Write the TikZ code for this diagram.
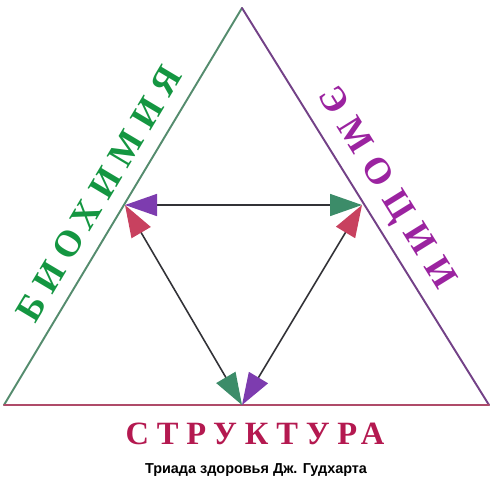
\documentclass[tikz,border=0pt]{standalone}
\usepackage{fontspec}
\setmainfont{Liberation Serif}
\newfontfamily\captionfont{Liberation Sans}
\usetikzlibrary{arrows.meta}
\definecolor{bioline}{RGB}{85,140,110}
\definecolor{emoline}{RGB}{115,65,135}
\definecolor{strline}{RGB}{175,75,105}
\definecolor{biotext}{RGB}{20,150,65}
\definecolor{emotext}{RGB}{155,35,160}
\definecolor{strtext}{RGB}{180,25,80}
\definecolor{biohead}{RGB}{60,140,105}
\definecolor{emohead}{RGB}{125,60,175}
\definecolor{strhead}{RGB}{200,65,95}
\definecolor{linkgray}{RGB}{50,50,55}
\tikzset{triad/.cd,
         side/.style={line width=1.1pt,line cap=round},
         word/.style={font=\bfseries\fontsize{21}{21}\selectfont,inner sep=0pt},
         link/.style={line width=0.9pt,draw=linkgray},
         caption/.style={font=\captionfont\bfseries\fontsize{8.2}{8.2}\selectfont,inner sep=0pt}}
\tikzset{bio tip/.tip={Triangle[length=6.4mm,width=4.4mm,color=biohead]},
         emo tip/.tip={Triangle[length=6.4mm,width=4.4mm,color=emohead]},
         str tip/.tip={Triangle[length=6.4mm,width=4.4mm,color=strhead]}}

\begin{document}
\begin{tikzpicture}[x=0.2mm,y=-0.2mm]
\useasboundingbox (0,0) rectangle (493,491);
% outer triangle
\coordinate (top) at (242,8);
\coordinate (bl)  at (4,405);
\coordinate (br)  at (489,405);
\draw[triad/side,draw=bioline] (bl) -- (top);
\draw[triad/side,draw=emoline] (top) -- (br);
\draw[triad/side,draw=strline] (bl) -- (br);
% inner triangle of arrows
\coordinate (bio) at (125,205);
\coordinate (emo) at (362,205);
\coordinate (str) at (242,405);
\draw[triad/link,{emo tip}-{bio tip}] (bio) -- (emo);
\draw[triad/link,{str tip}-{bio tip}] (bio) -- (str);
\draw[triad/link,{str tip}-{emo tip}] (emo) -- (str);
% labels
\node[triad/word,text=biotext,rotate=59.2] (biolabel) at (99,194)
     {\addfontfeature{LetterSpace=25}БИОХИМИЯ};
\node[triad/word,text=emotext,rotate=-58.2] (emolabel) at (385,189)
     {\addfontfeature{LetterSpace=30}ЭМОЦИИ};
\node[triad/word,text=strtext,font=\bfseries\fontsize{18.5}{18.5}\selectfont] (strlabel) at (255,434)
     {\addfontfeature{LetterSpace=24}СТРУКТУРА};
\node[triad/caption] (caption) at (256,470) {Триада здоровья Дж. Гудхарта};
\end{tikzpicture}
\end{document}
